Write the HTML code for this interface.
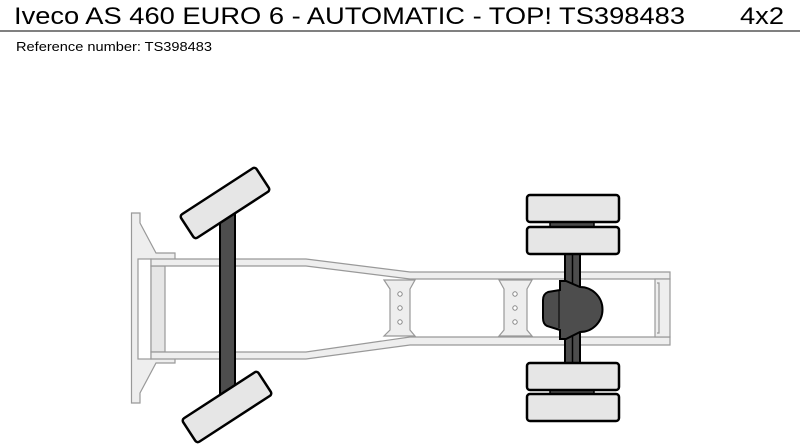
<!DOCTYPE html>
<html><head><style>html,body{margin:0;padding:0;background:#fff;width:800px;height:448px;overflow:hidden}</style></head>
<body>
<svg width="800" height="448" viewBox="0 0 800 448" xmlns="http://www.w3.org/2000/svg" font-family="Liberation Sans, Arial, sans-serif">
<text x="14" y="24" font-size="24" textLength="671" lengthAdjust="spacingAndGlyphs" fill="#000">Iveco AS 460 EURO 6 - AUTOMATIC - TOP! TS398483</text>
<text x="740" y="24" font-size="24" textLength="44" lengthAdjust="spacingAndGlyphs" fill="#000">4x2</text>
<line x1="0" y1="31" x2="800" y2="31" stroke="#000" stroke-width="1"/>
<text x="16" y="51" font-size="13" textLength="196" lengthAdjust="spacingAndGlyphs" fill="#000">Reference number: TS398483</text>

<g stroke="#999" stroke-width="1.2" fill="#eee">
<!-- bumper -->
<path d="M131.5 213 H140 V223 L156 253 H175 V260 H150 V358 H175 V363 H156 L140 393 V403 H131.5 Z"/>
<rect x="138" y="259" width="13" height="100" fill="#fff"/>
<rect x="151" y="266" width="14" height="86" fill="#e6e6e6"/>
<!-- rails -->
<path d="M151 259 H306 L410 272 H670 V279 H410 L306 266 H151 Z"/>
<path d="M151 352 H306 L410 337 H670 V345 H410 L306 359 H151 Z"/>
<rect x="655" y="279" width="15" height="58" fill="#eee"/>
<path d="M657 283 h2 v50 h-2" fill="none"/>
<!-- crossmembers -->
<path d="M384 280 L390 289 V330 L384 336 H415 L410 330 V289 L415 280 Z"/>
<path d="M499 280 L504 289 V330 L499 336 H532 L527 330 V289 L532 280 Z"/>
</g>
<g fill="#fff" stroke="#888" stroke-width="1">
<circle cx="400" cy="294" r="2.2"/><circle cx="400" cy="308" r="2.2"/><circle cx="400" cy="322" r="2.2"/>
<circle cx="515" cy="294" r="2.2"/><circle cx="515" cy="308" r="2.2"/><circle cx="515" cy="322" r="2.2"/>
</g>

<!-- front axle -->
<rect x="220" y="205" width="15" height="192" fill="#4d4d4d" stroke="#000" stroke-width="2"/>
<rect x="180" y="189" width="90" height="28" rx="3" fill="#e6e6e6" stroke="#000" stroke-width="2.5" transform="rotate(-33 225 203)"/>
<rect x="182" y="393" width="90" height="28" rx="3" fill="#e6e6e6" stroke="#000" stroke-width="2.5" transform="rotate(-33 227 407)"/>

<!-- rear axle -->
<rect x="565" y="250" width="15" height="120" fill="#4d4d4d" stroke="#000" stroke-width="2"/>
<line x1="572.5" y1="255" x2="572.5" y2="362" stroke="#000" stroke-width="1.5"/>
<path d="M560 281 H566 L580 287 A22 22 0 0 1 580 332 L566 339 H560 V330 L547 326 Q543 324 543 318 V300 Q543 294 548 292 L560 290 Z" fill="#4d4d4d" stroke="#000" stroke-width="2"/>
<line x1="559" y1="291" x2="559" y2="328" stroke="#000" stroke-width="1"/>
<g fill="#e6e6e6" stroke="#000" stroke-width="2.5">
<rect x="550" y="220" width="44" height="8" fill="#4d4d4d" stroke-width="1.5"/>
<rect x="550" y="388" width="44" height="8" fill="#4d4d4d" stroke-width="1.5"/>
<rect x="527" y="195" width="92" height="27" rx="3"/>
<rect x="527" y="227" width="92" height="27" rx="3"/>
<rect x="527" y="363" width="92" height="27" rx="3"/>
<rect x="527" y="394" width="92" height="27" rx="3"/>
</g>
</svg>
</body></html>
